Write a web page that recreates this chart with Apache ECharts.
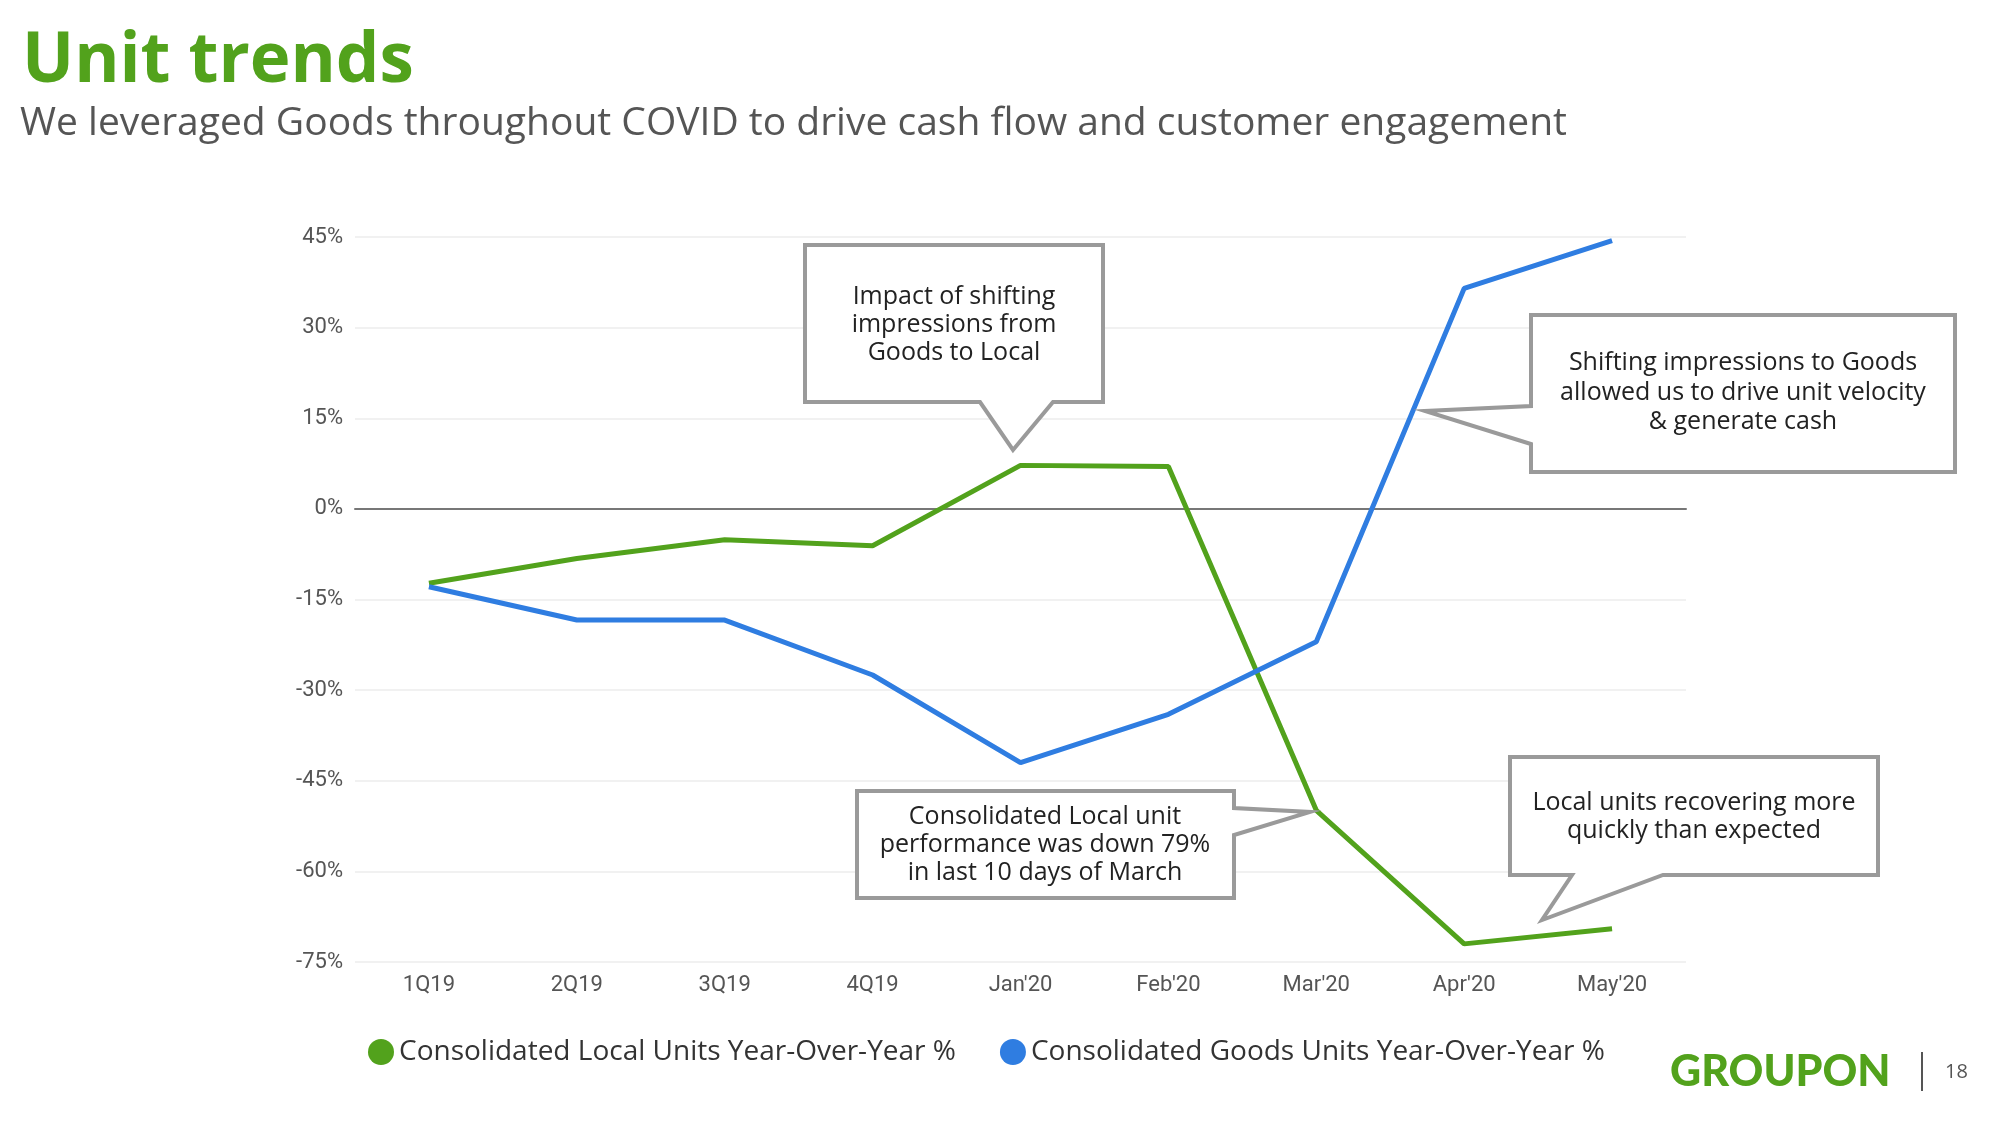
<!DOCTYPE html>
<html><head><meta charset="utf-8">
<script src="https://cdn.jsdelivr.net/npm/echarts@6/dist/echarts.min.js"></script>
<style>html,body{margin:0;padding:0;background:#fff}#c{width:2000px;height:1125px}</style>
</head><body><div id="c"></div>
<script>
const categories = ["1Q19","2Q19","3Q19","4Q19","Jan'20","Feb'20","Mar'20","Apr'20","May'20"];
const localUnits = [-12.3, -8.2, -5.1, -6.1, 7.2, 7.0, -49.9, -72.0, -69.5];
const goodsUnits = [-12.9, -18.4, -18.4, -27.5, -42.0, -34.0, -22.0, 36.5, 44.4];
const seriesNames = ["Consolidated Local Units Year-Over-Year %", "Consolidated Goods Units Year-Over-Year %"];
const yTicks = {min: -75, max: 45, step: 15};

const GREEN = '#52a21c', BLUE = '#2f7de1';
const chart = echarts.init(document.getElementById('c'));

function callout(points, lines, cx, ys) {
  const els = [{
    type: 'polygon', z: 100,
    shape: {points: points},
    style: {fill: '#fff', stroke: '#9a9a9a', lineWidth: 4, lineJoin: 'miter'}
  }];
  lines.forEach((t, i) => els.push({
    type: 'text', z: 101, x: cx, y: ys[i],
    style: {text: t, fill: '#222', font: '25px "Open Sans"', align: 'center', verticalAlign: 'middle'}
  }));
  return els;
}

const graphics = [
  {type: 'text', left: 22, top: 28, style: {text: 'Unit trends', fill: '#52a21c', font: 'bold 69px "Open Sans"'}},
  {type: 'text', left: 20, top: 104, style: {text: 'We leveraged Goods throughout COVID to drive cash flow and customer engagement', fill: '#555', font: '39px "Open Sans"'}},
  {type: 'text', x: 1670, y: 1072, style: {text: 'GROUPON', fill: '#52a21c', font: '900 43px Lato', verticalAlign: 'middle'}},
  {type: 'line', shape: {x1: 1922, y1: 1052, x2: 1922, y2: 1091}, style: {stroke: '#555', lineWidth: 2}},
  {type: 'text', x: 1945, y: 1072, style: {text: '18', fill: '#555', font: '20px "Open Sans"', verticalAlign: 'middle'}},
  ...callout([[805,245],[1103,245],[1103,402],[1053,402],[1013,450],[980,402],[805,402]],
    ['Impact of shifting','impressions from','Goods to Local'], 954, [297,325,353]),
  ...callout([[1531,315],[1955,315],[1955,472],[1531,472],[1531,444],[1425,411],[1531,406]],
    ['Shifting impressions to Goods','allowed us to drive unit velocity','& generate cash'], 1743, [363,393,422]),
  ...callout([[857,791],[1234,791],[1234,808],[1310,812],[1234,835],[1234,898],[857,898]],
    ['Consolidated Local unit','performance was down 79%','in last 10 days of March'], 1045, [817,845,873]),
  ...callout([[1510,757],[1878,757],[1878,875],[1663,875],[1542,920],[1572,875],[1510,875]],
    ['Local units recovering more','quickly than expected'], 1694, [803,831])
];

chart.setOption({
  animation: false,
  backgroundColor: '#fff',
  grid: {left: 355, right: 314, top: 237, bottom: 163},
  legend: {
    left: 363, top: 1033, itemGap: 44, icon: 'circle', itemWidth: 26, itemHeight: 26,
    textStyle: {fontFamily: 'Open Sans', fontSize: 28, color: '#333', padding: [0,0,0,0]},
    data: seriesNames
  },
  xAxis: {
    type: 'category', data: categories, boundaryGap: true,
    axisLine: {show: true, onZero: true, lineStyle: {color: '#777', width: 2}},
    axisTick: {show: false},
    axisLabel: {fontFamily: 'Roboto', fontSize: 22, color: '#555', margin: 12},
    position: 'bottom'
  },
  yAxis: {
    type: 'value', min: yTicks.min, max: yTicks.max, interval: yTicks.step,
    axisLabel: {fontFamily: 'Roboto', fontSize: 22, color: '#555', margin: 12, formatter: '{value}%'},
    axisLine: {show: false}, axisTick: {show: false},
    splitLine: {lineStyle: {color: '#ececec', width: 1.5}}
  },
  series: [
    {name: seriesNames[0], type: 'line', data: localUnits, showSymbol: false, symbol: 'circle', color: GREEN, lineStyle: {width: 5, color: GREEN}},
    {name: seriesNames[1], type: 'line', data: goodsUnits, showSymbol: false, symbol: 'circle', color: BLUE, lineStyle: {width: 5, color: BLUE}}
  ],
  graphic: graphics
});
</script></body></html>
